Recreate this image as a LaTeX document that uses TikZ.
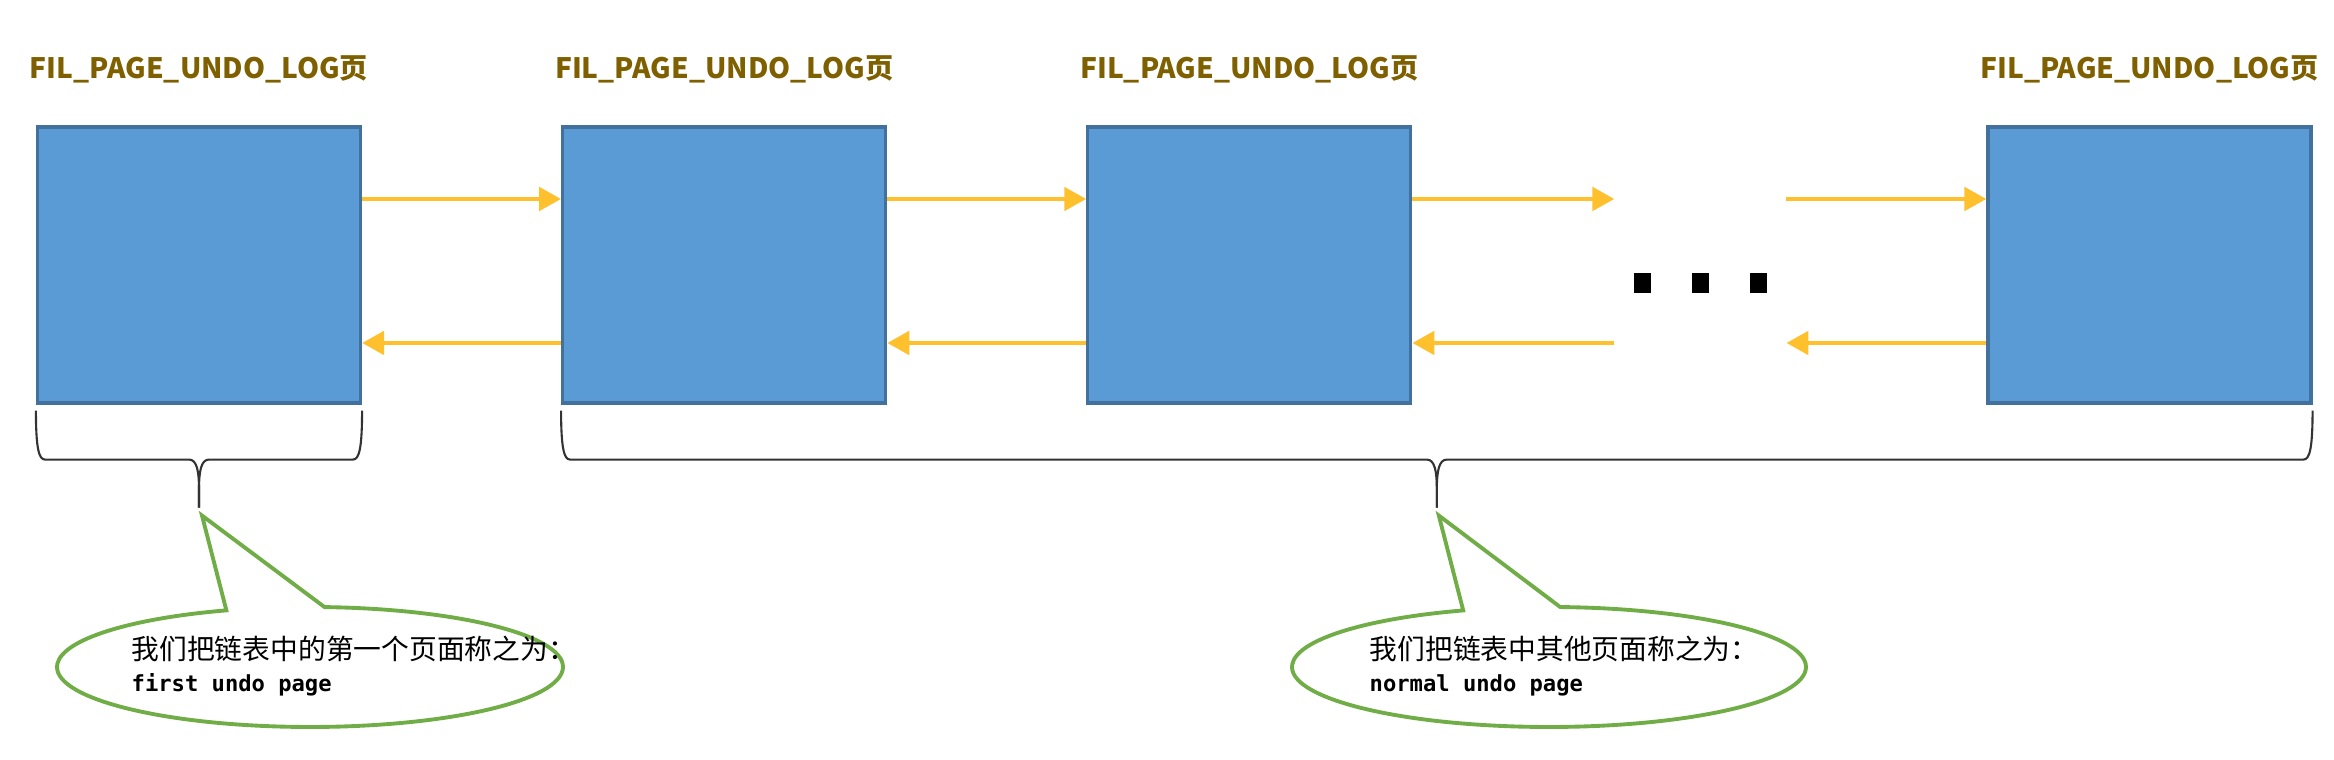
\documentclass[tikz,border=0pt]{standalone}
\usepackage{fontspec}
\usetikzlibrary{arrows.meta, positioning}
\usetikzlibrary{calc}
\newfontfamily\cjk{Noto Sans CJK SC}
\newfontfamily\mono{DejaVu Sans Mono}
\definecolor{pagefill}{HTML}{5B9BD5}
\definecolor{pageline}{HTML}{41719C}
\definecolor{linkcol}{HTML}{FFC02E}
\definecolor{titlecol}{HTML}{7F6000}
\definecolor{notecol}{HTML}{70AD47}

\begin{document}
\begin{tikzpicture}[
  page/.style={rectangle, draw=pageline, fill=pagefill, line width=0.9pt, minimum width=3.23cm, minimum height=2.76cm, inner sep=0pt},
  title/.style={font=\cjk\bfseries\fontsize{8}{9}\selectfont, text=titlecol, inner sep=0pt},
  link/.style={draw=linkcol, line width=1.4pt, -{Triangle[length=0.22cm, width=0.23cm]}},
  brc/.style={draw=black!80, line width=0.6pt, line join=round},
  callout/.style={draw=notecol, line width=1.1pt, fill=white},
  note/.style={align=left, inner sep=0pt, font=\cjk\fontsize{7.9}{9}\selectfont},
  dotsq/.style={rectangle, fill=black, minimum width=0.17cm, minimum height=0.2cm, inner sep=0pt},
  node distance=1.99cm
]
\useasboundingbox (0,0) rectangle (23.34,7.6);

% Pages
\node[page] (pg1) at (1.99,4.95) {};
\node[page, right=of pg1] (pg2) {};
\node[page, right=of pg2] (pg3) {};
\node[page, right=5.74cm of pg3] (pgn) {};

% Titles
\node[title, above=0.42cm of pg1] (t1) {FIL\_PAGE\_UNDO\_LOG页};
\node[title, above=0.42cm of pg2] (t2) {FIL\_PAGE\_UNDO\_LOG页};
\node[title, above=0.42cm of pg3] (t3) {FIL\_PAGE\_UNDO\_LOG页};
\node[title, above=0.42cm of pgn] (tn) {FIL\_PAGE\_UNDO\_LOG页};

% Gap and dots
\coordinate[right=2.02cm of pg3.east] (gapl);
\coordinate[left=2cm of pgn.west] (gapr);
\node[dotsq] (dot2) at ($(gapl)!0.5!(gapr) + (0,-0.18)$) {};
\node[dotsq, left=0.395cm of dot2] (dot1) {};
\node[dotsq, right=0.395cm of dot2] (dot3) {};

% Links
\draw[link] ([yshift=0.66cm]pg1.east) -- ([yshift=0.66cm]pg2.west);
\draw[link] ([yshift=-0.78cm]pg2.west) -- ([yshift=-0.78cm]pg1.east);
\draw[link] ([yshift=0.66cm]pg2.east) -- ([yshift=0.66cm]pg3.west);
\draw[link] ([yshift=-0.78cm]pg3.west) -- ([yshift=-0.78cm]pg2.east);
\draw[link] ([yshift=0.66cm]pg3.east) -- ([yshift=0.66cm]gapl);
\draw[link] ([yshift=-0.78cm]gapl) -- ([yshift=-0.78cm]pg3.east);
\draw[link] ([yshift=0.66cm]gapr) -- ([yshift=0.66cm]pgn.west);
\draw[link] ([yshift=-0.78cm]pgn.west) -- ([yshift=-0.78cm]gapr);

% Braces
\coordinate (b1l) at ([yshift=-0.06cm]pg1.south west);
\coordinate (b1r) at ([yshift=-0.06cm]pg1.south east);
\coordinate (b1t) at ([yshift=-1.03cm]pg1.south);
\coordinate (b2l) at ([yshift=-0.06cm]pg2.south west);
\coordinate (b2r) at ([yshift=-0.06cm]pgn.south east);
\coordinate (b2t) at ($(b2l)!0.5!(b2r) + (0,-0.97)$);

\draw[brc] (b1l) .. controls +(0,-0.38) and +(-0.06,0) .. ($(b1l)+(0.09,-0.49)$) -- ($(b1t)+(-0.1,0.48)$) .. controls +(0.08,0) and +(0,0.18) .. ($(b1t)+(0,0.18)$) -- (b1t);
\draw[brc] (b1r) .. controls +(0,-0.38) and +(0.06,0) .. ($(b1r)+(-0.09,-0.49)$) -- ($(b1t)+(0.1,0.48)$) .. controls +(-0.08,0) and +(0,0.18) .. ($(b1t)+(0,0.18)$) -- (b1t);
\draw[brc] (b2l) .. controls +(0,-0.38) and +(-0.06,0) .. ($(b2l)+(0.09,-0.49)$) -- ($(b2t)+(-0.1,0.48)$) .. controls +(0.08,0) and +(0,0.18) .. ($(b2t)+(0,0.18)$) -- (b2t);
\draw[brc] (b2r) .. controls +(0,-0.38) and +(0.06,0) .. ($(b2r)+(-0.09,-0.49)$) -- ($(b2t)+(0.1,0.48)$) .. controls +(-0.08,0) and +(0,0.18) .. ($(b2t)+(0,0.18)$) -- (b2t);

% Callouts
\coordinate (e1) at (3.10,0.93);
\coordinate (k1) at ($(b1t)+(0.03,-0.08)$);
\draw[callout] ([shift={(86.7:2.53cm and 0.6cm)}]e1) arc[start angle=86.7, end angle=-250.7, x radius=2.53cm, y radius=0.6cm] -- (k1) -- cycle;
\node[note, anchor=west] (n1) at (1.31,0.94) {我们把链表中的第一个页面称之为：\\{\mono\bfseries\fontsize{6.3}{9}\selectfont first undo page}};

\coordinate (e2) at (15.49,0.93);
\coordinate (k2) at ($(b2t)+(0.02,-0.08)$);
\draw[callout] ([shift={(87.5:2.57cm and 0.6cm)}]e2) arc[start angle=87.5, end angle=-250.5, x radius=2.57cm, y radius=0.6cm] -- (k2) -- cycle;
\node[note, anchor=west] (n2) at (13.69,0.94) {我们把链表中其他页面称之为：\\{\mono\bfseries\fontsize{6.3}{9}\selectfont normal undo page}};

\end{tikzpicture}
\end{document}
